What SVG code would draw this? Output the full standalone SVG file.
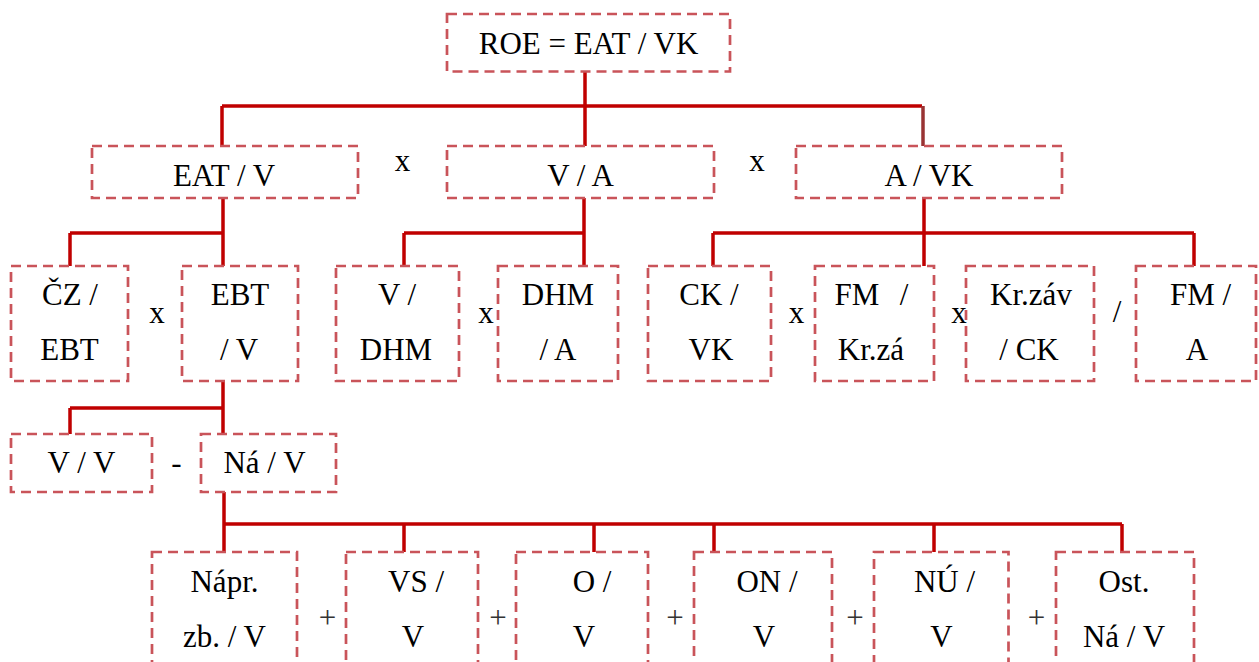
<svg xmlns="http://www.w3.org/2000/svg" width="1259" height="662" viewBox="0 0 1259 662">
<style>
.b{fill:none;stroke:#C9545A;stroke-width:2.7;stroke-dasharray:10 6}
text{font-family:'Liberation Serif','Times New Roman',serif;font-size:31px;fill:#000;text-anchor:middle}
.pl{fill:#333}
.c{fill:none;stroke:#C00000;stroke-width:3.5}
</style>
<rect width="1259" height="662" fill="#fff"/>
<g id="connectors">
<path class="c" d="M585 72V146M222 106H922M222 106V146"/>
<path d="M923 106V146" fill="none" stroke="#993333" stroke-width="3.5"/>
<path class="c" d="M223 198V266M70 233H223M70 233V266"/>
<path class="c" d="M584 198V266M404 233H584M404 233V266"/>
<path class="c" d="M924 198V266M713 233H1194M713 233V266M1194 233V266"/>
<path class="c" d="M223 381V434M70 408H223M70 408V434"/>
<path class="c" d="M224 492V552M224 524H1122M404 524V552M594 524V552M714 524V552M934 524V552M1122 524V552"/>
</g>
<g id="n-roe"><rect class="b" x="447" y="14" width="283" height="57.5"/><text x="588.5" y="54">ROE = EAT / VK</text></g>
<g id="n-eatv"><rect class="b" x="92" y="146" width="266" height="52"/><text x="224" y="186">EAT / V</text></g>
<g id="n-va"><rect class="b" x="447" y="146" width="267" height="52"/><text x="580.5" y="186">V / A</text></g>
<g id="n-avk"><rect class="b" x="796" y="146" width="266" height="52"/><text x="929" y="186">A / VK</text></g>
<g id="ops1"><text x="402.5" y="171">x</text><text x="757" y="171">x</text></g>
<g id="n-cz"><rect class="b" x="11" y="266" width="117" height="115"/><text x="70" y="305">ČZ /</text><text x="69.5" y="360">EBT</text></g>
<g id="n-ebtv"><rect class="b" x="182" y="266" width="116" height="115"/><text x="240" y="305">EBT</text><text x="239" y="360">/ V</text></g>
<g id="n-vdhm"><rect class="b" x="336" y="266" width="123" height="115"/><text x="397" y="305">V /</text><text x="396" y="360">DHM</text></g>
<g id="n-dhma"><rect class="b" x="498" y="266" width="120" height="115"/><text x="558" y="305">DHM</text><text x="558" y="360">/ A</text></g>
<g id="n-ckvk"><rect class="b" x="648" y="266" width="123" height="115"/><text x="709" y="305">CK /</text><text x="711" y="360">VK</text></g>
<g id="n-fmkr"><rect class="b" x="815" y="266" width="119" height="115"/><text y="305"><tspan x="857">FM</tspan><tspan x="904">/</tspan></text><text x="871" y="360">Kr.zá</text></g>
<g id="n-krzav"><rect class="b" x="966" y="266" width="128" height="115"/><text x="1031" y="305">Kr.záv</text><text x="1029" y="360">/ CK</text></g>
<g id="n-fma"><rect class="b" x="1136" y="266" width="120" height="115"/><text x="1200.5" y="305">FM /</text><text x="1197" y="360">A</text></g>
<g id="ops2"><text x="157" y="323">x</text><text x="486" y="323">x</text><text x="796.5" y="323">x</text><text x="959" y="323">x</text><text x="1117" y="322">/</text></g>
<g id="n-vv"><rect class="b" x="11" y="434" width="141" height="58"/><text x="81.5" y="473">V / V</text></g>
<g id="n-nav"><rect class="b" x="201" y="434" width="135" height="58"/><text x="264.5" y="473">Ná / V</text></g>
<g id="ops3"><text x="176.5" y="473">-</text></g>
<g id="n-napr"><rect class="b" x="152" y="552" width="145" height="130"/><text x="224.5" y="592">Nápr.</text><text x="224.5" y="647">zb. / V</text></g>
<g id="n-vs"><rect class="b" x="346" y="552" width="132" height="130"/><text x="416" y="592">VS /</text><text x="413" y="647">V</text></g>
<g id="n-o"><rect class="b" x="516" y="552" width="132" height="130"/><text x="592" y="592">O /</text><text x="584" y="647">V</text></g>
<g id="n-on"><rect class="b" x="694" y="552" width="138" height="130"/><text x="767" y="592">ON /</text><text x="764" y="647">V</text></g>
<g id="n-nu"><rect class="b" x="874" y="552" width="134.5" height="130"/><text x="944.5" y="592">NÚ /</text><text x="941.5" y="647">V</text></g>
<g id="n-ost"><rect class="b" x="1056" y="552" width="138" height="130"/><text x="1124" y="592">Ost.</text><text x="1124" y="647">Ná / V</text></g>
<g id="ops4"><text class="pl" x="327.5" y="627.5">+</text><text class="pl" x="498" y="627.5">+</text><text class="pl" x="675" y="627.5">+</text><text class="pl" x="855" y="627.5">+</text><text class="pl" x="1036.5" y="627.5">+</text></g>
</svg>
